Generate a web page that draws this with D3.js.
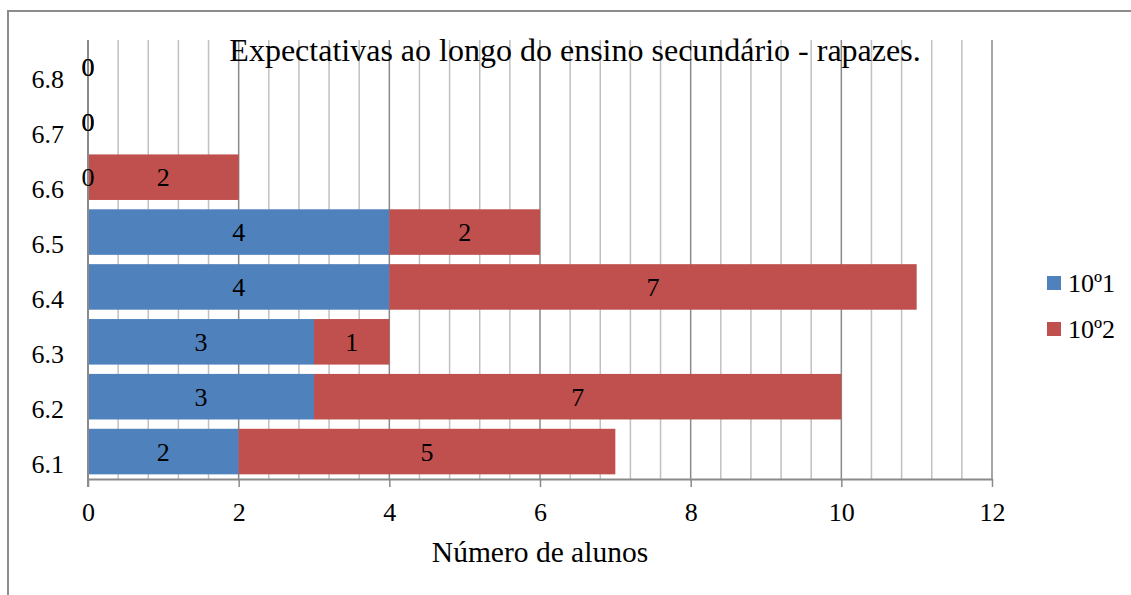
<!DOCTYPE html>
<html lang="pt">
<head>
    <meta charset="UTF-8">
    <title>Expectativas ao longo do ensino secundário - rapazes.</title>
    <script src="https://d3js.org/d3.v7.min.js"></script>
    <style>
        body { margin: 0; background: white; }
        svg { display: block; font-family: "Liberation Serif", "Times New Roman", serif; }
        .lbl { font-family: "Liberation Serif", "Times New Roman", serif; font-size: 26px; fill: black; }
    </style>
</head>
<body>
    <svg width="1131" height="595"></svg>
    <script>
        // data
        const categories = ["6.1", "6.2", "6.3", "6.4", "6.5", "6.6", "6.7", "6.8"];
        const seriesNames = ["10º1", "10º2"];
        const turma1 = [2, 3, 3, 4, 4, 0, 0, 0];
        const turma2 = [5, 7, 1, 7, 2, 2, 0, 0];
        const xTicks = [0, 2, 4, 6, 8, 10, 12];
        const colors = ["#4F81BD", "#C0504D"];

        const svg = d3.select("svg");
        const plot = { left: 88, right: 992, top: 40, bottom: 479 };

        const x = d3.scaleLinear().domain([0, 12]).range([plot.left, plot.right]);
        const y = d3.scaleBand()
            .domain(categories)
            .range([plot.bottom, plot.top])
            .paddingInner(0.17)
            .paddingOuter(0.085);

        // outer border (only top and left visible)
        svg.append("path")
            .attr("d", "M8,595 L8,11 L1131,11")
            .attr("fill", "none")
            .attr("stroke", "#8c8c8c")
            .attr("stroke-width", 2);

        // minor gridlines
        const minor = d3.range(0, 12.001, 0.4).filter(v => Math.abs(v / 2 - Math.round(v / 2)) > 0.01);
        svg.append("g").selectAll("line")
            .data(minor)
            .enter().append("line")
            .attr("x1", d => x(d)).attr("x2", d => x(d))
            .attr("y1", plot.top).attr("y2", plot.bottom)
            .attr("stroke", "#c0c0c0")
            .attr("stroke-width", 1.5);

        // major gridlines
        svg.append("g").selectAll("line")
            .data(xTicks.slice(1))
            .enter().append("line")
            .attr("x1", d => x(d)).attr("x2", d => x(d))
            .attr("y1", plot.top).attr("y2", plot.bottom)
            .attr("stroke", "#8a8a8a")
            .attr("stroke-width", 1.5);

        // title (drawn over gridlines)
        svg.append("text")
            .attr("x", 575)
            .attr("y", 61)
            .attr("text-anchor", "middle")
            .style("font-size", "32px")
            .text("Expectativas ao longo do ensino secundário - rapazes.");

        // stacked bars
        const rows = categories.map((c, i) => ({ cat: c, s0: turma1[i], s1: turma2[i] }));
        const stacked = d3.stack().keys(["s0", "s1"])(rows);

        stacked.forEach((layer, li) => {
            svg.append("g").selectAll("rect")
                .data(layer)
                .enter().append("rect")
                .attr("x", d => x(d[0]))
                .attr("y", d => y(d.data.cat))
                .attr("width", d => x(d[1]) - x(d[0]))
                .attr("height", y.bandwidth())
                .attr("fill", colors[li]);
        });

        // axes lines
        const xAxis = svg.append("g")
            .attr("transform", `translate(0,${plot.bottom})`)
            .call(d3.axisBottom(x).tickValues(xTicks).tickSize(8).tickSizeOuter(0))
            .attr("font-family", null)
            .attr("font-size", null);
        xAxis.select(".domain").attr("stroke", "#8a8a8a").attr("stroke-width", 2);
        xAxis.selectAll(".tick line").attr("stroke", "#8a8a8a").attr("stroke-width", 1.5);
        xAxis.selectAll(".tick text")
            .attr("class", "lbl")
            .attr("y", 42).attr("dy", 0);

        svg.append("line")
            .attr("x1", plot.left).attr("x2", plot.left)
            .attr("y1", plot.top).attr("y2", plot.bottom + 8)
            .attr("stroke", "#8a8a8a")
            .attr("stroke-width", 2);

        // category labels
        svg.append("g").selectAll("text")
            .data(categories)
            .enter().append("text")
            .attr("class", "lbl")
            .attr("x", 64)
            .attr("y", d => y(d) + y.bandwidth() / 2 + 21)
            .attr("text-anchor", "end")
            .text(d => d);

        // data labels
        stacked.forEach(layer => {
            svg.append("g").selectAll("text")
                .data(layer)
                .enter().append("text")
                .attr("class", "lbl")
                .attr("x", d => x((d[0] + d[1]) / 2))
                .attr("y", d => y(d.data.cat) + y.bandwidth() / 2 + 9)
                .attr("text-anchor", "middle")
                .text(d => d[1] - d[0]);
        });

        // axis title
        svg.append("text")
            .attr("x", (plot.left + plot.right) / 2)
            .attr("y", 562)
            .attr("text-anchor", "middle")
            .style("font-size", "29.5px")
            .text("Número de alunos");

        // legend
        const legend = svg.append("g");
        seriesNames.forEach((name, i) => {
            legend.append("rect")
                .attr("x", 1047).attr("y", 276 + i * 46)
                .attr("width", 14).attr("height", 14)
                .attr("fill", colors[i]);
            legend.append("text")
                .attr("class", "lbl")
                .attr("x", 1068).attr("y", 292 + i * 46)
                .text(name);
        });
    </script>
</body>
</html>
